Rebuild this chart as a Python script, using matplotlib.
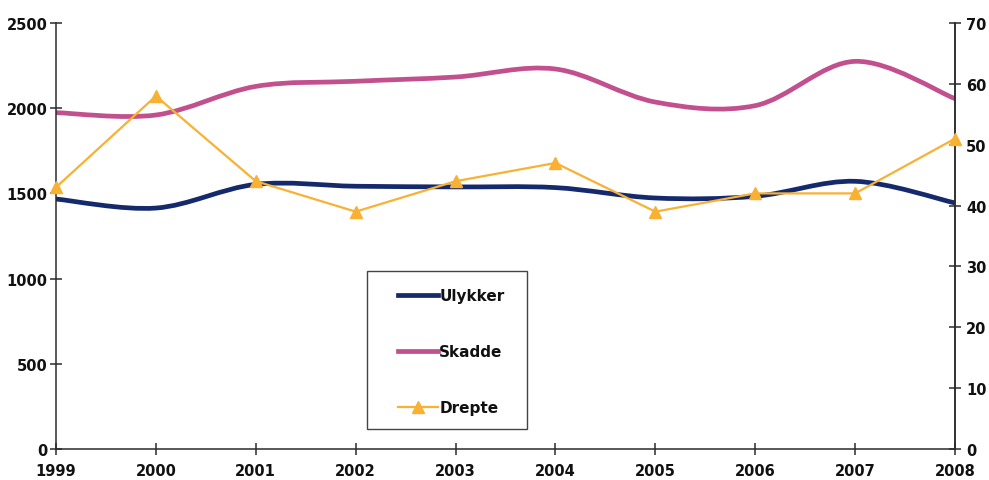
import matplotlib
matplotlib.use("Agg")
import matplotlib.pyplot as plt
from matplotlib.path import Path
from matplotlib.patches import PathPatch, Rectangle
from matplotlib.lines import Line2D
import numpy as np

years = [1999, 2000, 2001, 2002, 2003, 2004, 2005, 2006, 2007, 2008]
ulykker = [1467, 1414, 1553, 1542, 1538, 1534, 1473, 1483, 1571, 1444]
skadde = [1974, 1960, 2128, 2158, 2183, 2230, 2036, 2015, 2275, 2056]
drepte = [43, 58, 44, 39, 44, 47, 39, 42, 42, 51]

left_ticks = [0, 500, 1000, 1500, 2000, 2500]
right_ticks = [0, 10, 20, 30, 40, 50, 60, 70]

NAVY = "#15296d"
MAGENTA = "#c2508f"
ORANGE = "#f8b133"
AXIS = "#2b2b2b"

plt.rcParams["font.family"] = ["DejaVu Sans"]
plt.rcParams["font.weight"] = "bold"


def smooth_path(xs, ys):
    """Piecewise cubic Bezier through the points (Catmull-Rom style smoothing)."""
    pts = np.column_stack([xs, ys]).astype(float)
    n = len(pts)
    verts = [pts[0]]
    codes = [Path.MOVETO]
    for i in range(n - 1):
        p0 = pts[i - 1] if i > 0 else pts[i]
        p1 = pts[i]
        p2 = pts[i + 1]
        p3 = pts[i + 2] if i + 2 < n else pts[i + 1]
        c1 = p1 + (p2 - p0) / 6.0
        c2 = p2 - (p3 - p1) / 6.0
        verts += [c1, c2, p2]
        codes += [Path.CURVE4] * 3
    return Path(verts, codes)


fig = plt.figure(figsize=(9.89, 4.81), dpi=100)
ax = fig.add_axes([56 / 989, 31 / 481, (955 - 56) / 989, (450 - 24) / 481])
ax2 = ax.twinx()

for vals, col in ((ulykker, NAVY), (skadde, MAGENTA)):
    ax.add_patch(PathPatch(smooth_path(years, vals), facecolor="none",
                           edgecolor=col, lw=3.4, capstyle="butt",
                           joinstyle="round"))

ax2.plot(years, drepte, color=ORANGE, lw=1.6, marker="^", markersize=8,
         markeredgecolor=ORANGE, markerfacecolor=ORANGE, clip_on=False,
         zorder=3)

ax.set_xlim(1999, 2008)
ax.set_ylim(0, 2500)
ax2.set_ylim(0, 70)
ax.set_xticks(years)
ax.set_xticklabels([str(y) for y in years])
ax.set_yticks(left_ticks)
ax2.set_yticks(right_ticks)

for a in (ax, ax2):
    a.spines["top"].set_visible(False)
    for s in a.spines.values():
        s.set_color(AXIS)
        s.set_linewidth(1.1)
    a.set_facecolor("none")

ax2.spines["left"].set_visible(False)
ax2.spines["bottom"].set_visible(False)

ax.tick_params(axis="x", direction="inout", length=8, width=1.1,
               color=AXIS, pad=6, labelsize=10.5, labelcolor="#111111")
ax.tick_params(axis="y", direction="inout", length=8, width=1.1,
               color=AXIS, pad=2, labelsize=10.5, labelcolor="#111111")
ax2.tick_params(axis="y", direction="inout", length=8, width=1.1,
                color=AXIS, pad=4, labelsize=10.5, labelcolor="#111111")
for lab in ax.get_xticklabels() + ax.get_yticklabels() + ax2.get_yticklabels():
    lab.set_fontweight("bold")

# Legend box
fig.patches.append(Rectangle((367 / 989, (481 - 430) / 481),
                             (527 - 367) / 989, (430 - 272) / 481,
                             transform=fig.transFigure, facecolor="white",
                             edgecolor="#444444", lw=1.0, zorder=5))

handles = [
    Line2D([], [], color=NAVY, lw=3.4),
    Line2D([], [], color=MAGENTA, lw=3.4),
    Line2D([], [], color=ORANGE, lw=1.6, marker="^", markersize=8),
]
leg = fig.legend(handles, ["Ulykker", "Skadde", "Drepte"],
                 loc="upper left",
                 bbox_to_anchor=(398 / 989, (481 - 289) / 481),
                 frameon=False, borderpad=0, borderaxespad=0,
                 handlelength=2.6, handletextpad=0.1, labelspacing=2.7,
                 prop={"size": 11, "weight": "bold"})
leg.set_zorder(6)
for t in leg.get_texts():
    t.set_color("#111111")

fig.savefig("out.png", dpi=100, facecolor="white")
